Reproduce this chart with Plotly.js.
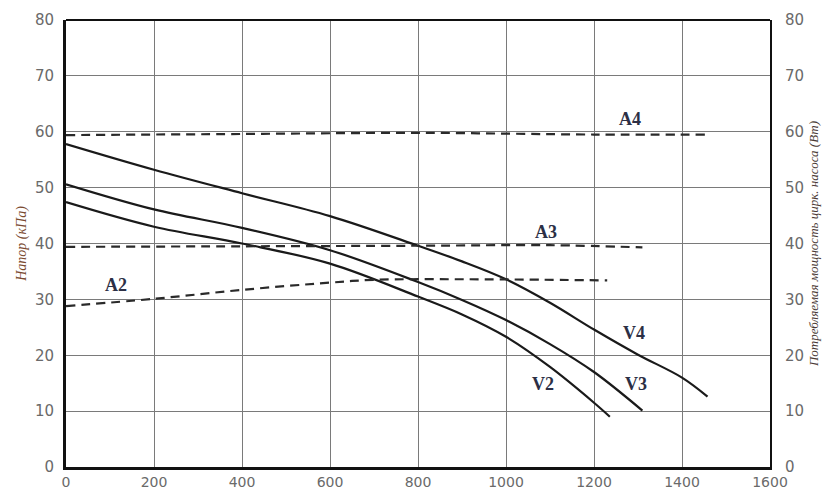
<!DOCTYPE html>
<html>
<head>
<meta charset="utf-8">
<script src="https://cdn.plot.ly/plotly-3.0.1.min.js"></script>
<style>html,body{margin:0;padding:0;background:#fff;}#chart{width:831px;height:491px;}</style>
</head>
<body>
<div id="chart"></div>
<script>
// Flow (x) values and head / power values
const v4Flow = [0, 200, 400, 600, 800, 900, 1000, 1100, 1200, 1300, 1400, 1458];
const v4Head = [57.8, 53.2, 49.0, 44.9, 39.6, 36.8, 33.6, 29.4, 24.6, 20.1, 16.0, 12.6];
const v3Flow = [0, 200, 400, 600, 800, 900, 1000, 1100, 1200, 1310];
const v3Head = [50.6, 46.1, 42.8, 38.8, 33.1, 29.9, 26.3, 22.0, 17.0, 10.1];
const v2Flow = [0, 200, 400, 600, 800, 900, 1000, 1100, 1200, 1236];
const v2Head = [47.4, 43.0, 40.0, 36.4, 30.5, 27.3, 23.3, 17.9, 11.5, 9.0];
const a4Flow = [0, 400, 800, 1200, 1458];
const a4Power = [59.4, 59.6, 59.8, 59.5, 59.5];
const a3Flow = [0, 400, 800, 1100, 1310];
const a3Power = [39.4, 39.5, 39.6, 39.7, 39.3];
const a2Flow = [0, 200, 400, 600, 700, 900, 1230];
const a2Power = [28.8, 30.1, 31.7, 33.0, 33.5, 33.6, 33.4];
const curveNames = ['V4', 'V3', 'V2', 'A4', 'A3', 'A2'];
const labelX = [1292, 1296, 1085, 1281, 1090, 113];
const labelY = [23.9, 14.9, 14.9, 62.2, 42.1, 32.5];
const xTicks = [0, 200, 400, 600, 800, 1000, 1200, 1400, 1600];
const yTicks = [0, 10, 20, 30, 40, 50, 60, 70, 80];

const solid = {color: '#1a1a1a', width: 2.2, shape: 'spline', smoothing: 1};
const dashed = {color: '#2a2a2a', width: 2.2, dash: '9px,6px', shape: 'spline', smoothing: 1};
const traces = [
  {x: v4Flow, y: v4Head, mode: 'lines', line: solid, name: 'V4'},
  {x: v3Flow, y: v3Head, mode: 'lines', line: solid, name: 'V3'},
  {x: v2Flow, y: v2Head, mode: 'lines', line: solid, name: 'V2'},
  {x: a4Flow, y: a4Power, mode: 'lines', line: dashed, name: 'A4', yaxis: 'y2'},
  {x: a3Flow, y: a3Power, mode: 'lines', line: dashed, name: 'A3', yaxis: 'y2'},
  {x: a2Flow, y: a2Power, mode: 'lines', line: dashed, name: 'A2', yaxis: 'y2'}
];

const tickFont = {family: 'DejaVu Sans, sans-serif', size: 15, color: '#6a6a6a'};
const xTickFont = {family: 'DejaVu Sans, sans-serif', size: 14, color: '#6a6a6a'};
const annotations = curveNames.map((n, i) => ({
  x: labelX[i], y: labelY[i], xref: 'x', yref: 'y', text: '<b>' + n + '</b>',
  showarrow: false, font: {family: 'Liberation Serif, serif', size: 18, color: '#2c2f45'}
}));

const layout = {
  width: 831, height: 491,
  margin: {l: 66, r: 61, t: 20, b: 24},
  paper_bgcolor: '#fff', plot_bgcolor: '#fff',
  showlegend: false,
  xaxis: {
    range: [0, 1600], tickvals: xTicks, ticktext: xTicks.map(String),
    showgrid: true, gridcolor: '#7a7a7a', gridwidth: 1,
    showline: true, linecolor: '#111', linewidth: 3, zeroline: false,
    ticks: '', tickfont: xTickFont, ticklabelstandoff: 0
  },
  yaxis: {
    range: [0, 80], tickvals: yTicks, ticktext: yTicks.map(String),
    showgrid: true, gridcolor: '#7a7a7a', gridwidth: 1,
    showline: true, linecolor: '#111', linewidth: 3, zeroline: false,
    ticks: '', tickfont: tickFont, ticklabelstandoff: 6,
    title: {text: '<i>Напор (кПа)</i>', font: {family: 'Liberation Serif, serif', size: 14, color: '#7a4a30'}, standoff: 6}
  },
  yaxis2: {
    range: [0, 80], tickvals: yTicks, ticktext: yTicks.map(String),
    overlaying: 'y', side: 'right', showgrid: false,
    showline: true, linecolor: '#111', linewidth: 2, zeroline: false,
    ticks: '', tickfont: tickFont, ticklabelstandoff: 10,
    title: {text: '<i>Потребляемая мощность цирк. насоса (Вт)</i>', font: {family: 'Liberation Serif, serif', size: 13, color: '#4a3a35'}, standoff: 6}
  },
  shapes: [{type: 'line', xref: 'paper', yref: 'paper', x0: 0, x1: 1, y0: 1, y1: 1, line: {color: '#111', width: 2}}],
  annotations: annotations
};

Plotly.newPlot('chart', traces, layout, {displayModeBar: false, staticPlot: true});
</script>
</body>
</html>
